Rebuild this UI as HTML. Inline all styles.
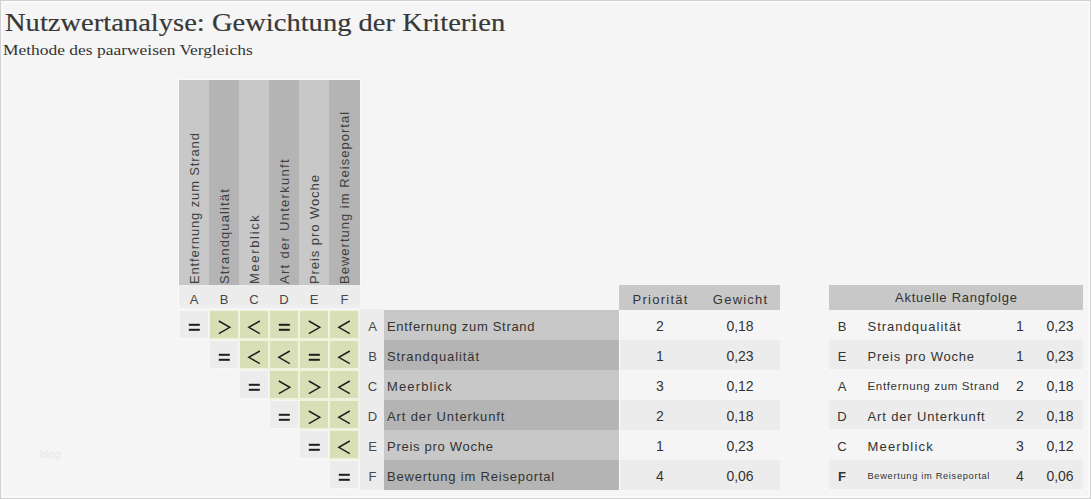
<!DOCTYPE html>
<html><head><meta charset="utf-8"><style>
html,body{margin:0;padding:0;}
body{width:1091px;height:499px;position:relative;overflow:hidden;background:#f5f5f5;font-family:"Liberation Sans",sans-serif;}
.frame{position:absolute;left:0;top:0;width:1089px;height:497px;border:1px solid #d0d0d0;}
.frame2{position:absolute;left:1px;top:1px;width:1085px;height:493px;border:2px solid #f9f9f9;}
.s{position:absolute;white-space:nowrap;line-height:1;font-family:"Liberation Sans",sans-serif;color:#333333;}
.v{transform-origin:0 0;transform:rotate(-90deg);}
.t{position:absolute;white-space:nowrap;line-height:1;font-family:"Liberation Serif",serif;color:#383838;transform-origin:0 0;-webkit-text-stroke:0.2px #383838;}
</style></head><body>
<div class="frame"></div><div class="frame2"></div>
<div class="t" style="left:4.5px;top:10.3px;font-size:26px;transform:scaleX(1.098)">Nutzwertanalyse: Gewichtung der Kriterien</div>
<div class="t" style="left:2.5px;top:42px;font-size:15.5px;transform:scaleX(1.125);-webkit-text-stroke:0;color:#333">Methode des paarweisen Vergleichs</div>
<div style="position:absolute;left:179px;top:80px;width:30px;height:205px;background:#c8c8c8;"></div>
<div class="s v" style="left:187.5px;top:284px;font-size:13px;color:#404040;letter-spacing:0.86px">Entfernung zum Strand</div>
<div style="position:absolute;left:209px;top:80px;width:30px;height:205px;background:#b4b4b4;"></div>
<div class="s v" style="left:217.5px;top:284px;font-size:13px;color:#404040;letter-spacing:1.12px">Strandqualität</div>
<div style="position:absolute;left:239px;top:80px;width:30px;height:205px;background:#c8c8c8;"></div>
<div class="s v" style="left:247.5px;top:284px;font-size:13px;color:#404040;letter-spacing:1.65px">Meerblick</div>
<div style="position:absolute;left:269px;top:80px;width:30px;height:205px;background:#b4b4b4;"></div>
<div class="s v" style="left:277.5px;top:284px;font-size:13px;color:#404040;letter-spacing:1.29px">Art der Unterkunft</div>
<div style="position:absolute;left:299px;top:80px;width:30px;height:205px;background:#c8c8c8;"></div>
<div class="s v" style="left:307.5px;top:284px;font-size:13px;color:#404040;letter-spacing:0.93px">Preis pro Woche</div>
<div style="position:absolute;left:329px;top:80px;width:31px;height:205px;background:#b4b4b4;"></div>
<div class="s v" style="left:337.5px;top:284px;font-size:13px;color:#404040;letter-spacing:1.01px">Bewertung im Reiseportal</div>
<div style="position:absolute;left:179px;top:285px;width:181px;height:20px;background:#ececec;"></div>
<div style="position:absolute;left:179px;top:305px;width:181px;height:3px;background:#efefef;"></div>
<div style="position:absolute;left:178px;top:79px;width:183px;height:1px;background:#fafafa;"></div>
<div style="position:absolute;left:178px;top:79px;width:1px;height:229px;background:#fafafa;"></div>
<div style="position:absolute;left:360px;top:79px;width:1px;height:206px;background:#fafafa;"></div>
<div class="s" style="left:179.275px;top:292.5px;width:30px;text-align:center;font-size:13px;letter-spacing:0.55px;color:#484848;">A</div>
<div class="s" style="left:209.275px;top:292.5px;width:30px;text-align:center;font-size:13px;letter-spacing:0.55px;color:#484848;">B</div>
<div class="s" style="left:239.275px;top:292.5px;width:30px;text-align:center;font-size:13px;letter-spacing:0.55px;color:#484848;">C</div>
<div class="s" style="left:269.275px;top:292.5px;width:30px;text-align:center;font-size:13px;letter-spacing:0.55px;color:#484848;">D</div>
<div class="s" style="left:299.275px;top:292.5px;width:30px;text-align:center;font-size:13px;letter-spacing:0.55px;color:#484848;">E</div>
<div class="s" style="left:329.775px;top:292.5px;width:30px;text-align:center;font-size:13px;letter-spacing:0.55px;color:#484848;">F</div>
<div style="position:absolute;left:179px;top:310px;width:30px;height:30px;background:#f7f7f7;"></div>
<div style="position:absolute;left:180px;top:311px;width:28px;height:27px;background:#ececec;"></div>
<div style="position:absolute;left:209px;top:310px;width:30px;height:30px;background:#eff2dc;"></div>
<div style="position:absolute;left:210px;top:311px;width:28px;height:27px;background:#d8dfb6;"></div>
<div style="position:absolute;left:239px;top:310px;width:30px;height:30px;background:#eff2dc;"></div>
<div style="position:absolute;left:240px;top:311px;width:28px;height:27px;background:#d8dfb6;"></div>
<div style="position:absolute;left:269px;top:310px;width:30px;height:30px;background:#eff2dc;"></div>
<div style="position:absolute;left:270px;top:311px;width:28px;height:27px;background:#d8dfb6;"></div>
<div style="position:absolute;left:299px;top:310px;width:30px;height:30px;background:#eff2dc;"></div>
<div style="position:absolute;left:300px;top:311px;width:28px;height:27px;background:#d8dfb6;"></div>
<div style="position:absolute;left:329px;top:310px;width:31px;height:30px;background:#eff2dc;"></div>
<div style="position:absolute;left:330px;top:311px;width:28px;height:27px;background:#d8dfb6;"></div>
<div style="position:absolute;left:209px;top:340px;width:30px;height:30px;background:#f7f7f7;"></div>
<div style="position:absolute;left:210px;top:341px;width:28px;height:27px;background:#ececec;"></div>
<div style="position:absolute;left:239px;top:340px;width:30px;height:30px;background:#eff2dc;"></div>
<div style="position:absolute;left:240px;top:341px;width:28px;height:27px;background:#d8dfb6;"></div>
<div style="position:absolute;left:269px;top:340px;width:30px;height:30px;background:#eff2dc;"></div>
<div style="position:absolute;left:270px;top:341px;width:28px;height:27px;background:#d8dfb6;"></div>
<div style="position:absolute;left:299px;top:340px;width:30px;height:30px;background:#eff2dc;"></div>
<div style="position:absolute;left:300px;top:341px;width:28px;height:27px;background:#d8dfb6;"></div>
<div style="position:absolute;left:329px;top:340px;width:31px;height:30px;background:#eff2dc;"></div>
<div style="position:absolute;left:330px;top:341px;width:28px;height:27px;background:#d8dfb6;"></div>
<div style="position:absolute;left:239px;top:370px;width:30px;height:30px;background:#f7f7f7;"></div>
<div style="position:absolute;left:240px;top:371px;width:28px;height:27px;background:#ececec;"></div>
<div style="position:absolute;left:269px;top:370px;width:30px;height:30px;background:#eff2dc;"></div>
<div style="position:absolute;left:270px;top:371px;width:28px;height:27px;background:#d8dfb6;"></div>
<div style="position:absolute;left:299px;top:370px;width:30px;height:30px;background:#eff2dc;"></div>
<div style="position:absolute;left:300px;top:371px;width:28px;height:27px;background:#d8dfb6;"></div>
<div style="position:absolute;left:329px;top:370px;width:31px;height:30px;background:#eff2dc;"></div>
<div style="position:absolute;left:330px;top:371px;width:28px;height:27px;background:#d8dfb6;"></div>
<div style="position:absolute;left:269px;top:400px;width:30px;height:30px;background:#f7f7f7;"></div>
<div style="position:absolute;left:270px;top:401px;width:28px;height:27px;background:#ececec;"></div>
<div style="position:absolute;left:299px;top:400px;width:30px;height:30px;background:#eff2dc;"></div>
<div style="position:absolute;left:300px;top:401px;width:28px;height:27px;background:#d8dfb6;"></div>
<div style="position:absolute;left:329px;top:400px;width:31px;height:30px;background:#eff2dc;"></div>
<div style="position:absolute;left:330px;top:401px;width:28px;height:27px;background:#d8dfb6;"></div>
<div style="position:absolute;left:299px;top:430px;width:30px;height:30px;background:#f7f7f7;"></div>
<div style="position:absolute;left:300px;top:431px;width:28px;height:27px;background:#ececec;"></div>
<div style="position:absolute;left:329px;top:430px;width:31px;height:30px;background:#eff2dc;"></div>
<div style="position:absolute;left:330px;top:431px;width:28px;height:27px;background:#d8dfb6;"></div>
<div style="position:absolute;left:329px;top:460px;width:30px;height:30px;background:#f7f7f7;"></div>
<div style="position:absolute;left:330px;top:461px;width:28px;height:27px;background:#ececec;"></div>
<div style="position:absolute;left:360px;top:309px;width:24px;height:181px;background:#ececec;"></div>
<div class="s" style="left:360.775px;top:319.5px;width:24px;text-align:center;font-size:13px;letter-spacing:0.55px;color:#484848;">A</div>
<div style="position:absolute;left:384px;top:310px;width:235px;height:30px;background:#c8c8c8;"></div>
<div class="s" style="left:387px;top:319.5px;font-size:13px;letter-spacing:0.69px;color:#333333;">Entfernung zum Strand</div>
<div class="s" style="left:360.775px;top:349.5px;width:24px;text-align:center;font-size:13px;letter-spacing:0.55px;color:#484848;">B</div>
<div style="position:absolute;left:384px;top:340px;width:235px;height:30px;background:#b4b4b4;"></div>
<div class="s" style="left:387px;top:349.5px;font-size:13px;letter-spacing:0.91px;color:#333333;">Strandqualität</div>
<div class="s" style="left:360.775px;top:379.5px;width:24px;text-align:center;font-size:13px;letter-spacing:0.55px;color:#484848;">C</div>
<div style="position:absolute;left:384px;top:370px;width:235px;height:30px;background:#c8c8c8;"></div>
<div class="s" style="left:387px;top:379.5px;font-size:13px;letter-spacing:1.14px;color:#333333;">Meerblick</div>
<div class="s" style="left:360.775px;top:409.5px;width:24px;text-align:center;font-size:13px;letter-spacing:0.55px;color:#484848;">D</div>
<div style="position:absolute;left:384px;top:400px;width:235px;height:30px;background:#b4b4b4;"></div>
<div class="s" style="left:387px;top:409.5px;font-size:13px;letter-spacing:0.87px;color:#333333;">Art der Unterkunft</div>
<div class="s" style="left:360.775px;top:439.5px;width:24px;text-align:center;font-size:13px;letter-spacing:0.55px;color:#484848;">E</div>
<div style="position:absolute;left:384px;top:430px;width:235px;height:30px;background:#c8c8c8;"></div>
<div class="s" style="left:387px;top:439.5px;font-size:13px;letter-spacing:0.72px;color:#333333;">Preis pro Woche</div>
<div class="s" style="left:360.775px;top:469.5px;width:24px;text-align:center;font-size:13px;letter-spacing:0.55px;color:#484848;">F</div>
<div style="position:absolute;left:384px;top:460px;width:235px;height:30px;background:#b4b4b4;"></div>
<div class="s" style="left:387px;top:469.5px;font-size:13px;letter-spacing:0.8px;color:#333333;">Bewertung im Reiseportal</div>
<div style="position:absolute;left:619px;top:285px;width:161px;height:25px;background:#c8c8c8;"></div>
<div class="s" style="left:620.135px;top:292.5px;width:81px;text-align:center;font-size:13px;letter-spacing:1.27px;color:#333333;">Priorität</div>
<div class="s" style="left:700.61px;top:292.5px;width:80px;text-align:center;font-size:13px;letter-spacing:1.22px;color:#333333;">Gewicht</div>
<div class="s" style="left:619.5px;top:319.0px;width:81px;text-align:center;font-size:14px;letter-spacing:0px;color:#333333;">2</div>
<div class="s" style="left:700.0px;top:319.0px;width:80px;text-align:center;font-size:14px;letter-spacing:0px;color:#333333;">0,18</div>
<div style="position:absolute;left:619px;top:340px;width:161px;height:30px;background:#ececec;"></div>
<div class="s" style="left:619.5px;top:349.0px;width:81px;text-align:center;font-size:14px;letter-spacing:0px;color:#333333;">1</div>
<div class="s" style="left:700.0px;top:349.0px;width:80px;text-align:center;font-size:14px;letter-spacing:0px;color:#333333;">0,23</div>
<div class="s" style="left:619.5px;top:379.0px;width:81px;text-align:center;font-size:14px;letter-spacing:0px;color:#333333;">3</div>
<div class="s" style="left:700.0px;top:379.0px;width:80px;text-align:center;font-size:14px;letter-spacing:0px;color:#333333;">0,12</div>
<div style="position:absolute;left:619px;top:400px;width:161px;height:30px;background:#ececec;"></div>
<div class="s" style="left:619.5px;top:409.0px;width:81px;text-align:center;font-size:14px;letter-spacing:0px;color:#333333;">2</div>
<div class="s" style="left:700.0px;top:409.0px;width:80px;text-align:center;font-size:14px;letter-spacing:0px;color:#333333;">0,18</div>
<div class="s" style="left:619.5px;top:439.0px;width:81px;text-align:center;font-size:14px;letter-spacing:0px;color:#333333;">1</div>
<div class="s" style="left:700.0px;top:439.0px;width:80px;text-align:center;font-size:14px;letter-spacing:0px;color:#333333;">0,23</div>
<div style="position:absolute;left:619px;top:460px;width:161px;height:30px;background:#ececec;"></div>
<div class="s" style="left:619.5px;top:469.0px;width:81px;text-align:center;font-size:14px;letter-spacing:0px;color:#333333;">4</div>
<div class="s" style="left:700.0px;top:469.0px;width:80px;text-align:center;font-size:14px;letter-spacing:0px;color:#333333;">0,06</div>
<div style="position:absolute;left:619px;top:310px;width:1px;height:180px;background:#fbfbfb;"></div>
<div style="position:absolute;left:829px;top:285px;width:254px;height:25px;background:#c8c8c8;"></div>
<div class="s" style="left:829.375px;top:291px;width:254px;text-align:center;font-size:13px;letter-spacing:0.75px;color:#333333;">Aktuelle Rangfolge</div>
<div class="s" style="left:829.275px;top:319.5px;width:26px;text-align:center;font-size:13px;letter-spacing:0.55px;color:#333333;">B</div>
<div class="s" style="left:867.5px;top:319.5px;font-size:13px;letter-spacing:1.0px;color:#333333;">Strandqualität</div>
<div class="s" style="left:1007.0px;top:319.0px;width:26px;text-align:center;font-size:14px;letter-spacing:0px;color:#333333;">1</div>
<div class="s" style="left:1037.0px;top:319.0px;width:46px;text-align:center;font-size:14px;letter-spacing:0px;color:#333333;">0,23</div>
<div style="position:absolute;left:829px;top:340px;width:254px;height:29px;background:#ececec;"></div>
<div class="s" style="left:829.275px;top:349.5px;width:26px;text-align:center;font-size:13px;letter-spacing:0.55px;color:#333333;">E</div>
<div class="s" style="left:867.5px;top:349.5px;font-size:13px;letter-spacing:0.76px;color:#333333;">Preis pro Woche</div>
<div class="s" style="left:1007.0px;top:349.0px;width:26px;text-align:center;font-size:14px;letter-spacing:0px;color:#333333;">1</div>
<div class="s" style="left:1037.0px;top:349.0px;width:46px;text-align:center;font-size:14px;letter-spacing:0px;color:#333333;">0,23</div>
<div class="s" style="left:829.275px;top:379.5px;width:26px;text-align:center;font-size:13px;letter-spacing:0.55px;color:#333333;">A</div>
<div class="s" style="left:867.5px;top:380.625px;font-size:11.5px;letter-spacing:0.66px;color:#333333;">Entfernung zum Strand</div>
<div class="s" style="left:1007.0px;top:379.0px;width:26px;text-align:center;font-size:14px;letter-spacing:0px;color:#333333;">2</div>
<div class="s" style="left:1037.0px;top:379.0px;width:46px;text-align:center;font-size:14px;letter-spacing:0px;color:#333333;">0,18</div>
<div style="position:absolute;left:829px;top:400px;width:254px;height:29px;background:#ececec;"></div>
<div class="s" style="left:829.275px;top:409.5px;width:26px;text-align:center;font-size:13px;letter-spacing:0.55px;color:#333333;">D</div>
<div class="s" style="left:867.5px;top:409.5px;font-size:13px;letter-spacing:0.86px;color:#333333;">Art der Unterkunft</div>
<div class="s" style="left:1007.0px;top:409.0px;width:26px;text-align:center;font-size:14px;letter-spacing:0px;color:#333333;">2</div>
<div class="s" style="left:1037.0px;top:409.0px;width:46px;text-align:center;font-size:14px;letter-spacing:0px;color:#333333;">0,18</div>
<div class="s" style="left:829.275px;top:439.5px;width:26px;text-align:center;font-size:13px;letter-spacing:0.55px;color:#333333;">C</div>
<div class="s" style="left:867.5px;top:439.5px;font-size:13px;letter-spacing:1.19px;color:#333333;">Meerblick</div>
<div class="s" style="left:1007.0px;top:439.0px;width:26px;text-align:center;font-size:14px;letter-spacing:0px;color:#333333;">3</div>
<div class="s" style="left:1037.0px;top:439.0px;width:46px;text-align:center;font-size:14px;letter-spacing:0px;color:#333333;">0,12</div>
<div style="position:absolute;left:829px;top:460px;width:254px;height:29px;background:#ececec;"></div>
<div class="s" style="left:829.275px;top:469.5px;width:26px;text-align:center;font-size:13px;letter-spacing:0.55px;color:#333333;font-weight:bold">F</div>
<div class="s" style="left:867.5px;top:472.275px;font-size:9.3px;letter-spacing:0.67px;color:#333333;">Bewertung im Reiseportal</div>
<div class="s" style="left:1007.0px;top:469.0px;width:26px;text-align:center;font-size:14px;letter-spacing:0px;color:#333333;">4</div>
<div class="s" style="left:1037.0px;top:469.0px;width:46px;text-align:center;font-size:14px;letter-spacing:0px;color:#333333;">0,06</div>
<svg style="position:absolute;left:0;top:0" width="1091" height="499"><rect x="188.8" y="323.8" width="11" height="2" fill="#1e1e1e"/><rect x="188.8" y="328.8" width="11" height="2" fill="#1e1e1e"/><polyline points="218.8,321.0 229.8,327.3 218.8,333.6" fill="none" stroke="#1e1e1e" stroke-width="1.45"/><polyline points="259.8,321.0 248.8,327.3 259.8,333.6" fill="none" stroke="#1e1e1e" stroke-width="1.45"/><rect x="278.8" y="323.8" width="11" height="2" fill="#1e1e1e"/><rect x="278.8" y="328.8" width="11" height="2" fill="#1e1e1e"/><polyline points="308.8,321.0 319.8,327.3 308.8,333.6" fill="none" stroke="#1e1e1e" stroke-width="1.45"/><polyline points="349.8,321.0 338.8,327.3 349.8,333.6" fill="none" stroke="#1e1e1e" stroke-width="1.45"/><rect x="218.8" y="353.8" width="11" height="2" fill="#1e1e1e"/><rect x="218.8" y="358.8" width="11" height="2" fill="#1e1e1e"/><polyline points="259.8,351.0 248.8,357.3 259.8,363.6" fill="none" stroke="#1e1e1e" stroke-width="1.45"/><polyline points="289.8,351.0 278.8,357.3 289.8,363.6" fill="none" stroke="#1e1e1e" stroke-width="1.45"/><rect x="308.8" y="353.8" width="11" height="2" fill="#1e1e1e"/><rect x="308.8" y="358.8" width="11" height="2" fill="#1e1e1e"/><polyline points="349.8,351.0 338.8,357.3 349.8,363.6" fill="none" stroke="#1e1e1e" stroke-width="1.45"/><rect x="248.8" y="383.8" width="11" height="2" fill="#1e1e1e"/><rect x="248.8" y="388.8" width="11" height="2" fill="#1e1e1e"/><polyline points="278.8,381.0 289.8,387.3 278.8,393.6" fill="none" stroke="#1e1e1e" stroke-width="1.45"/><polyline points="308.8,381.0 319.8,387.3 308.8,393.6" fill="none" stroke="#1e1e1e" stroke-width="1.45"/><polyline points="349.8,381.0 338.8,387.3 349.8,393.6" fill="none" stroke="#1e1e1e" stroke-width="1.45"/><rect x="278.8" y="413.8" width="11" height="2" fill="#1e1e1e"/><rect x="278.8" y="418.8" width="11" height="2" fill="#1e1e1e"/><polyline points="308.8,411.0 319.8,417.3 308.8,423.6" fill="none" stroke="#1e1e1e" stroke-width="1.45"/><polyline points="349.8,411.0 338.8,417.3 349.8,423.6" fill="none" stroke="#1e1e1e" stroke-width="1.45"/><rect x="308.8" y="443.8" width="11" height="2" fill="#1e1e1e"/><rect x="308.8" y="448.8" width="11" height="2" fill="#1e1e1e"/><polyline points="349.8,441.0 338.8,447.3 349.8,453.6" fill="none" stroke="#1e1e1e" stroke-width="1.45"/><rect x="338.8" y="473.8" width="11" height="2" fill="#1e1e1e"/><rect x="338.8" y="478.8" width="11" height="2" fill="#1e1e1e"/></svg>
<div class="s" style="left:40px;top:449px;font-size:11px;color:#e6e6e6;-webkit-text-stroke:0">blog</div>
</body></html>
